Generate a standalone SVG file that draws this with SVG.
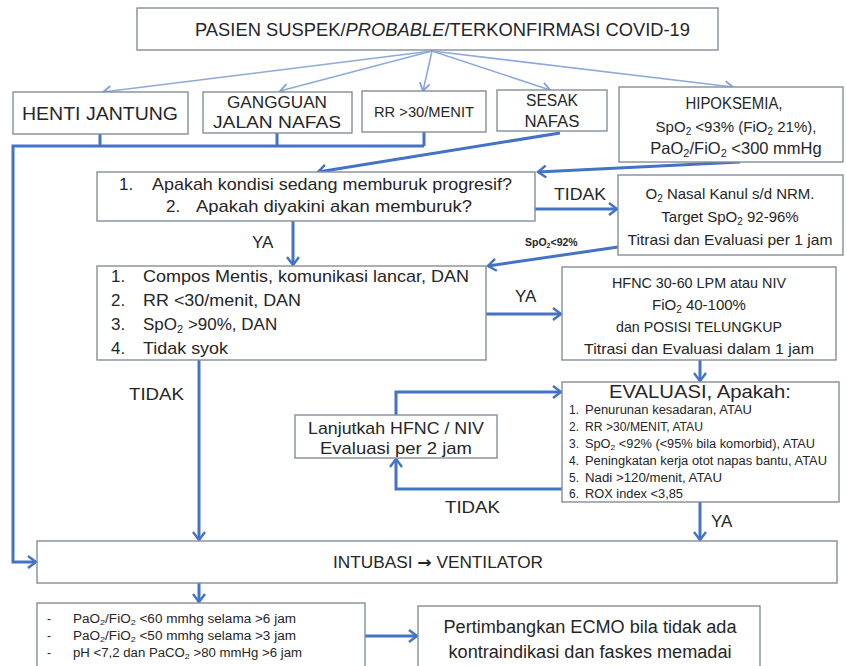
<svg xmlns="http://www.w3.org/2000/svg" width="847" height="666" viewBox="0 0 847 666">
<style>
.box{fill:#fff;stroke:#858e98;stroke-width:1.4}
.t{font-family:"Liberation Sans",Arial,sans-serif;fill:#262626}
.c{text-anchor:middle}
.f19{font-size:19px}.f18{font-size:18px}.f17{font-size:17px}.f16{font-size:16px}.f15{font-size:15px}.f12{font-size:12px}
.fan{stroke:#8eaadb;stroke-width:1.6;fill:none}
.con{stroke:#4472c4;stroke-width:3;fill:none}
</style>
<defs>
<marker id="ah" markerUnits="userSpaceOnUse" markerWidth="14" markerHeight="14" refX="10" refY="7" orient="auto">
<path d="M2,1 L10,7 L2,13" fill="none" stroke="#4472c4" stroke-width="2.4"/>
</marker>
<marker id="fh" markerUnits="userSpaceOnUse" markerWidth="16" markerHeight="16" refX="12" refY="8" orient="auto">
<path d="M4,3 L12,8 L4,13" fill="none" stroke="#7f9fd6" stroke-width="1.8"/>
</marker>
</defs>

<g id="connectors">
<line class="fan" x1="432" y1="51" x2="103" y2="92" marker-end="url(#fh)"/>
<line class="fan" x1="432" y1="51" x2="280" y2="91" marker-end="url(#fh)"/>
<line class="fan" x1="432" y1="51" x2="423" y2="91" marker-end="url(#fh)"/>
<line class="fan" x1="432" y1="51" x2="550" y2="90" marker-end="url(#fh)"/>
<line class="fan" x1="432" y1="51" x2="733" y2="87" marker-end="url(#fh)"/>
<path class="con" d="M100,134 V146 M277,133 V146 M424,132 V146 M424,146 H13 V562 H36" marker-end="url(#ah)"/>
<line class="con" x1="560" y1="133" x2="318" y2="172" marker-end="url(#ah)"/>
<line class="con" x1="740" y1="162" x2="538" y2="172" marker-end="url(#ah)"/>
<line class="con" x1="535" y1="209" x2="617" y2="209" marker-end="url(#ah)"/>
<line class="con" x1="618" y1="247" x2="488" y2="266" marker-end="url(#ah)"/>
<line class="con" x1="293" y1="221" x2="293" y2="265" marker-end="url(#ah)"/>
<line class="con" x1="486" y1="314" x2="561" y2="314" marker-end="url(#ah)"/>
<line class="con" x1="700" y1="360" x2="700" y2="381" marker-end="url(#ah)"/>
<path class="con" d="M396,415 V392 H561" marker-end="url(#ah)"/>
<path class="con" d="M562,489 H396 V459" marker-end="url(#ah)"/>
<line class="con" x1="700" y1="502" x2="700" y2="540" marker-end="url(#ah)"/>
<line class="con" x1="199" y1="360" x2="199" y2="540" marker-end="url(#ah)"/>
<line class="con" x1="199" y1="583" x2="199" y2="602" marker-end="url(#ah)"/>
<line class="con" x1="365" y1="636" x2="417" y2="636" marker-end="url(#ah)"/>
</g>

<g id="n-top">
<rect class="box" x="137" y="8" width="581" height="42"/>
<text class="t f19" x="195" y="36" textLength="495" lengthAdjust="spacingAndGlyphs">PASIEN SUSPEK/<tspan font-style="italic">PROBABLE</tspan>/TERKONFIRMASI COVID-19</text>
</g>

<g id="n-henti">
<rect class="box" x="13" y="92" width="175" height="42"/>
<text class="t f19 c" x="100" y="120" textLength="156" lengthAdjust="spacingAndGlyphs">HENTI JANTUNG</text>
</g>

<g id="n-gangguan">
<rect class="box" x="203" y="92" width="149" height="41"/>
<text class="t f16 c" x="277" y="108" textLength="100" lengthAdjust="spacingAndGlyphs">GANGGUAN</text>
<text class="t f16 c" x="277" y="128" textLength="128" lengthAdjust="spacingAndGlyphs">JALAN NAFAS</text>
</g>

<g id="n-rr">
<rect class="box" x="362" y="91" width="124" height="41"/>
<text class="t f15 c" x="424" y="117" textLength="100" lengthAdjust="spacingAndGlyphs">RR &gt;30/MENIT</text>
</g>

<g id="n-sesak">
<rect class="box" x="497" y="90" width="110" height="41"/>
<text class="t f16 c" x="552" y="106" textLength="52" lengthAdjust="spacingAndGlyphs">SESAK</text>
<text class="t f16 c" x="552" y="127" textLength="55" lengthAdjust="spacingAndGlyphs">NAFAS</text>
</g>

<g id="n-hipoksemia">
<rect class="box" x="619" y="87" width="224" height="75"/>
<text class="t f16 c" x="734" y="109" textLength="97" lengthAdjust="spacingAndGlyphs">HIPOKSEMIA,</text>
<text class="t f15 c" x="736" y="132">SpO<tspan font-size="10" dy="3">2</tspan><tspan dy="-3"> &lt;93% (FiO</tspan><tspan font-size="10" dy="3">2</tspan><tspan dy="-3"> 21%),</tspan></text>
<text class="t c" font-size="16.5" x="736" y="154">PaO<tspan font-size="11" dy="3">2</tspan><tspan dy="-3">/FiO</tspan><tspan font-size="11" dy="3">2</tspan><tspan dy="-3"> &lt;300 mmHg</tspan></text>
</g>

<g id="n-apakah">
<rect class="box" x="97" y="172" width="438" height="49"/>
<text class="t f17" x="119" y="190">1.</text>
<text class="t f17" x="152" y="190" textLength="360" lengthAdjust="spacingAndGlyphs">Apakah kondisi sedang memburuk progresif?</text>
<text class="t f17" x="166" y="212">2.</text>
<text class="t f17" x="196" y="212" textLength="276" lengthAdjust="spacingAndGlyphs">Apakah diyakini akan memburuk?</text>
</g>

<g id="lbl-tidak1"><text class="t f17" x="554" y="200" textLength="52" lengthAdjust="spacingAndGlyphs">TIDAK</text></g>
<g id="lbl-spo2"><text class="t" x="525" y="246" font-size="10.5" font-weight="bold">SpO<tspan font-size="7" dy="2">2</tspan><tspan dy="-2">&lt;92%</tspan></text></g>
<g id="lbl-ya1"><text class="t f17" x="252" y="248">YA</text></g>

<g id="n-o2">
<rect class="box" x="618" y="175" width="225" height="80"/>
<text class="t f15 c" x="730" y="199">O<tspan font-size="10" dy="3">2</tspan><tspan dy="-3"> Nasal Kanul s/d NRM.</tspan></text>
<text class="t f15 c" x="730" y="222">Target SpO<tspan font-size="10" dy="3">2</tspan><tspan dy="-3"> 92-96%</tspan></text>
<text class="t f15 c" x="730" y="245" textLength="205" lengthAdjust="spacingAndGlyphs">Titrasi dan Evaluasi per 1 jam</text>
</g>

<g id="n-compos">
<rect class="box" x="97" y="266" width="389" height="94"/>
<text class="t f17" x="111" y="282">1.</text>
<text class="t f17" x="143" y="282" textLength="326" lengthAdjust="spacingAndGlyphs">Compos Mentis, komunikasi lancar, DAN</text>
<text class="t f17" x="111" y="306">2.</text>
<text class="t f17" x="143" y="306" textLength="158" lengthAdjust="spacingAndGlyphs">RR &lt;30/menit, DAN</text>
<text class="t f17" x="111" y="330">3.</text>
<text class="t f17" x="143" y="330">SpO<tspan font-size="11" dy="3">2</tspan><tspan dy="-3"> &gt;90%, DAN</tspan></text>
<text class="t f17" x="111" y="354">4.</text>
<text class="t f17" x="143" y="354" textLength="85" lengthAdjust="spacingAndGlyphs">Tidak syok</text>
</g>

<g id="lbl-ya2"><text class="t f17" x="515" y="302">YA</text></g>

<g id="n-hfnc">
<rect class="box" x="562" y="267" width="274" height="93"/>
<text class="t f15 c" x="699" y="288" textLength="174" lengthAdjust="spacingAndGlyphs">HFNC 30-60 LPM atau NIV</text>
<text class="t f15 c" x="699" y="310">FiO<tspan font-size="10" dy="3">2</tspan><tspan dy="-3"> 40-100%</tspan></text>
<text class="t f15 c" x="699" y="332" textLength="166" lengthAdjust="spacingAndGlyphs">dan POSISI TELUNGKUP</text>
<text class="t f15 c" x="699" y="354" textLength="230" lengthAdjust="spacingAndGlyphs">Titrasi dan Evaluasi dalam 1 jam</text>
</g>

<g id="lbl-tidak2"><text class="t f17" x="129" y="400" textLength="55" lengthAdjust="spacingAndGlyphs">TIDAK</text></g>

<g id="n-evaluasi">
<rect class="box" x="562" y="382" width="277" height="120"/>
<text class="t c" font-size="17.5" x="700" y="398" textLength="182" lengthAdjust="spacingAndGlyphs">EVALUASI, Apakah:</text>
<text class="t f12" x="569" y="414">1.</text><text class="t f12" x="585" y="414" textLength="167" lengthAdjust="spacingAndGlyphs">Penurunan kesadaran, ATAU</text>
<text class="t f12" x="569" y="431">2.</text><text class="t f12" x="585" y="431" textLength="118" lengthAdjust="spacingAndGlyphs">RR &gt;30/MENIT, ATAU</text>
<text class="t f12" x="569" y="448">3.</text><text class="t f12" x="585" y="448" textLength="230" lengthAdjust="spacingAndGlyphs">SpO<tspan font-size="8" dy="2">2</tspan><tspan dy="-2"> &lt;92% (&lt;95% bila komorbid), ATAU</tspan></text>
<text class="t f12" x="569" y="465">4.</text><text class="t f12" x="585" y="465" textLength="242" lengthAdjust="spacingAndGlyphs">Peningkatan kerja otot napas bantu, ATAU</text>
<text class="t f12" x="569" y="482">5.</text><text class="t f12" x="585" y="482" textLength="137" lengthAdjust="spacingAndGlyphs">Nadi &gt;120/menit, ATAU</text>
<text class="t f12" x="569" y="498">6.</text><text class="t f12" x="585" y="498" textLength="98" lengthAdjust="spacingAndGlyphs">ROX index &lt;3,85</text>
</g>

<g id="n-lanjutkah">
<rect class="box" x="295" y="415" width="202" height="43"/>
<text class="t f17 c" x="396" y="434" textLength="176" lengthAdjust="spacingAndGlyphs">Lanjutkah HFNC / NIV</text>
<text class="t f17 c" x="396" y="454" textLength="152" lengthAdjust="spacingAndGlyphs">Evaluasi per 2 jam</text>
</g>

<g id="lbl-tidak3"><text class="t f17" x="445" y="513" textLength="55" lengthAdjust="spacingAndGlyphs">TIDAK</text></g>
<g id="lbl-ya3"><text class="t f17" x="711" y="527">YA</text></g>

<g id="n-intubasi">
<rect class="box" x="37" y="541" width="800" height="42"/>
<text class="t f16" x="333" y="568" textLength="210" lengthAdjust="spacingAndGlyphs">INTUBASI <tspan font-family="DejaVu Sans,sans-serif" font-weight="bold">→</tspan> VENTILATOR</text>
</g>

<g id="n-kriteria">
<rect class="box" x="37" y="603" width="328" height="70"/>
<text class="t f12" x="47" y="623">-</text>
<text class="t f12" x="73" y="623" textLength="223" lengthAdjust="spacingAndGlyphs">PaO<tspan font-size="8" dy="2">2</tspan><tspan dy="-2">/FiO</tspan><tspan font-size="8" dy="2">2</tspan><tspan dy="-2"> &lt;60 mmhg  selama &gt;6 jam</tspan></text>
<text class="t f12" x="47" y="640">-</text>
<text class="t f12" x="73" y="640" textLength="223" lengthAdjust="spacingAndGlyphs">PaO<tspan font-size="8" dy="2">2</tspan><tspan dy="-2">/FiO</tspan><tspan font-size="8" dy="2">2</tspan><tspan dy="-2"> &lt;50 mmhg  selama &gt;3 jam</tspan></text>
<text class="t f12" x="47" y="657">-</text>
<text class="t f12" x="73" y="657" textLength="229" lengthAdjust="spacingAndGlyphs">pH &lt;7,2 dan PaCO<tspan font-size="8" dy="2">2</tspan><tspan dy="-2"> &gt;80 mmHg &gt;6 jam</tspan></text>
</g>

<g id="n-ecmo">
<rect class="box" x="418" y="606" width="342" height="67"/>
<text class="t f18 c" x="590" y="633" textLength="293" lengthAdjust="spacingAndGlyphs">Pertimbangkan ECMO bila tidak ada</text>
<text class="t f18 c" x="590" y="658" textLength="283" lengthAdjust="spacingAndGlyphs">kontraindikasi dan faskes memadai</text>
</g>
</svg>
